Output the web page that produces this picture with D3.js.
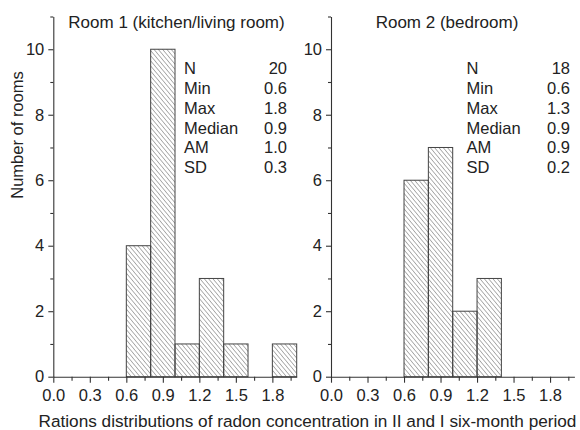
<!DOCTYPE html>
<html>
<head>
<meta charset="utf-8">
<script src="https://cdn.jsdelivr.net/npm/d3@7"></script>
<style>
  body { margin: 0; background: #fff; }
  text { font-family: "Liberation Sans", Arial, sans-serif; fill: #222; }
</style>
</head>
<body>
<script>
// histogram bins (lower edge), width 0.2
var binStarts = [0.6, 0.8, 1.0, 1.2, 1.4, 1.6, 1.8];
var binWidth = 0.2;
var room1Counts = [4, 10, 1, 3, 1, 0, 1];
var room2Counts = [6, 7, 2, 3, 0, 0, 0];

var statLabels = ["N", "Min", "Max", "Median", "AM", "SD"];
var room1Stats = ["20", "0.6", "1.8", "0.9", "1.0", "0.3"];
var room2Stats = ["18", "0.6", "1.3", "0.9", "0.9", "0.2"];

var panelTitles = ["Room 1 (kitchen/living room)", "Room 2 (bedroom)"];
var xTicks = [0, 0.3, 0.6, 0.9, 1.2, 1.5, 1.8];
var xMinor = [0.15, 0.45, 0.75, 1.05, 1.35, 1.65, 1.95];
var yTicks = [0, 2, 4, 6, 8, 10];
var yMinor = [1, 3, 5, 7, 9, 11];

var W = 580, H = 430;
var svg = d3.select("body").append("svg")
    .attr("width", W)
    .attr("height", H);

// hatch pattern
svg.append("defs").append("pattern")
    .attr("id", "hatch")
    .attr("patternUnits", "userSpaceOnUse")
    .attr("width", 3.3)
    .attr("height", 3.3)
    .attr("patternTransform", "rotate(-40)")
  .append("line")
    .attr("x1", 0).attr("y1", 0)
    .attr("x2", 0).attr("y2", 3.3)
    .attr("stroke", "#555")
    .attr("stroke-width", 0.9);

var y = d3.scaleLinear().domain([0, 11]).range([376.7, 16.5]);

var panels = [
  {left: 53.3, right: 296.7, counts: room1Counts, stats: room1Stats,
   title: panelTitles[0], titleX: 176.5, statX: 184, valX: 287},
  {left: 331, right: 574.4, counts: room2Counts, stats: room2Stats,
   title: panelTitles[1], titleX: 447, statX: 466.5, valX: 570}
];

panels.forEach(function(p){
    var x = d3.scaleLinear().domain([0, 2.0]).range([p.left, p.right]);
    var g = svg.append("g");

    var bins = binStarts.map(function(b, i){ return {x0: b, n: p.counts[i]}; })
        .filter(function(d){ return d.n > 0; });

    g.selectAll("rect")
    .data(bins)
    .enter()
    .append("rect")
    .attr("x", function(d){ return x(d.x0); })
    .attr("width", function(d){ return x(d.x0 + binWidth) - x(d.x0); })
    .attr("y", function(d){ return y(d.n); })
    .attr("height", function(d){ return y(0) - y(d.n); })
    .attr("fill", "url(#hatch)")
    .attr("stroke", "#444")
    .attr("stroke-width", 1);

    // x axis
    g.append("g").attr("transform", "translate(0," + y(0) + ")")
    .call(d3.axisBottom(x).tickValues(xTicks).tickSize(6).tickSizeOuter(0).tickPadding(7)
        .tickFormat(d3.format(".1f")));
    g.append("g").attr("transform", "translate(0," + y(0) + ")")
    .call(d3.axisBottom(x).tickValues(xMinor).tickSize(4).tickSizeOuter(0).tickFormat(""))
    .select(".domain").remove();

    // y axis
    g.append("g").attr("transform", "translate(" + p.left + ",0)")
    .call(d3.axisLeft(y).tickValues(yTicks).tickSize(5).tickSizeOuter(0).tickPadding(4));
    g.append("g").attr("transform", "translate(" + p.left + ",0)")
    .call(d3.axisLeft(y).tickValues(yMinor).tickSize(3).tickSizeOuter(0).tickFormat(""))
    .select(".domain").remove();

    g.selectAll(".tick text").attr("font-size", 16.5).attr("fill", "#222")
        .attr("font-family", "Liberation Sans, Arial, sans-serif");
    g.selectAll(".domain, .tick line").attr("stroke", "#333").attr("stroke-width", 1.1);

    g.append("text")
    .attr("x", p.titleX)
    .attr("y", 28)
    .attr("text-anchor", "middle")
    .attr("font-size", 17)
    .text(p.title);

    g.selectAll("text.lab")
    .data(statLabels)
    .enter()
    .append("text")
    .attr("class", "lab")
    .attr("x", p.statX)
    .attr("y", function(d, i){ return 74 + i * 19.85; })
    .attr("font-size", 16.5)
    .text(function(d){ return d; });

    g.selectAll("text.val")
    .data(p.stats)
    .enter()
    .append("text")
    .attr("class", "val")
    .attr("x", p.valX)
    .attr("y", function(d, i){ return 74 + i * 19.85; })
    .attr("text-anchor", "end")
    .attr("font-size", 16.5)
    .text(function(d){ return d; });
});

svg.append("text")
    .attr("transform", "translate(23,135) rotate(-90)")
    .attr("text-anchor", "middle")
    .attr("font-size", 16.5)
    .text("Number of rooms");

svg.append("text")
    .attr("x", 307.5)
    .attr("y", 427)
    .attr("text-anchor", "middle")
    .attr("font-size", 17.2)
    .text("Rations distributions of radon concentration in II and I six-month period");
</script>
</body>
</html>
